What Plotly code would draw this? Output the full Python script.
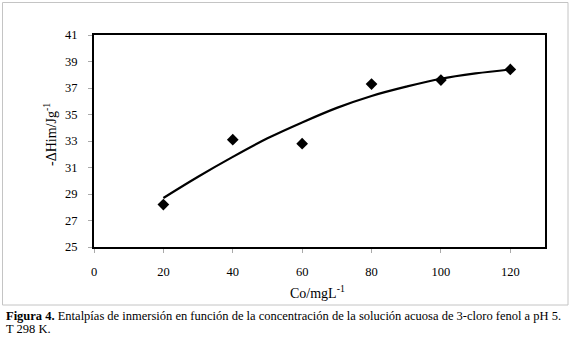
import plotly.graph_objects as go

# Data
conc = [20, 40, 60, 80, 100, 120]
enthalpy = [28.2, 33.1, 32.8, 37.3, 37.6, 38.4]

# Trend line (polynomial trendline as drawn in the chart)
trend_x = [20, 30, 40, 50, 60, 70, 80, 90, 100, 110, 120]
trend_y = [28.7, 30.3, 31.8, 33.2, 34.4, 35.5, 36.4, 37.1, 37.7, 38.1, 38.4]

x_ticks = [0, 20, 40, 60, 80, 100, 120]
y_ticks = [25, 27, 29, 31, 33, 35, 37, 39, 41]

W, H = 571, 338
L, R, T, B = 94, 545, 35, 247


def px(xp):
    return (xp - L) / (R - L)


def py(yp):
    return (B - yp) / (B - T)


font_family = "Liberation Serif"

fig = go.Figure()
fig.add_trace(go.Scatter(x=trend_x, y=trend_y, mode="lines", line=dict(color="black", width=2.2, shape="spline"),
                         hoverinfo="skip", showlegend=False))
fig.add_trace(go.Scatter(x=conc, y=enthalpy, mode="markers",
                         marker=dict(symbol="diamond", size=9, color="black"), showlegend=False))

fig.update_layout(
    width=W, height=H,
    margin=dict(l=L, r=W - R, t=T, b=H - B),
    paper_bgcolor="white", plot_bgcolor="white",
    font=dict(family=font_family, color="black", size=12),
    xaxis=dict(range=[0, 130], tickvals=x_ticks, showgrid=False, zeroline=False,
               showline=True, linecolor="black", linewidth=2, mirror=True,
               ticks="outside", ticklen=4, tickcolor="#aaaaaa", ticklabelstandoff=8,
               tickfont=dict(size=12.5, family=font_family)),
    yaxis=dict(range=[25, 41], tickvals=y_ticks, showgrid=False, zeroline=False,
               showline=True, linecolor="black", linewidth=2, mirror=True,
               ticks="outside", ticklen=4, tickcolor="#aaaaaa", ticklabelstandoff=8,
               tickfont=dict(size=12.5, family=font_family)),
    shapes=[dict(type="rect", xref="paper", yref="paper",
                 x0=px(2.5), x1=px(568), y0=py(305), y1=py(2.5),
                 line=dict(color="#c4c4c4", width=1), layer="below")],
    annotations=[
        dict(text="-ΔHim/Jg<sup>-1</sup>", xref="paper", yref="paper", x=px(50), y=py(135),
             textangle=-90, showarrow=False, xanchor="center", yanchor="middle",
             font=dict(size=14, family=font_family)),
        dict(text="Co/mgL<sup>-1</sup>", xref="paper", yref="paper", x=px(317), y=py(292),
             showarrow=False, xanchor="center", yanchor="middle",
             font=dict(size=14, family=font_family)),
        dict(text="<b>Figura 4.</b> Entalpías de inmersión en función de la concentración de la solución acuosa de 3-cloro fenol a pH 5.",
             xref="paper", yref="paper", x=px(4), y=py(316), showarrow=False,
             xanchor="left", yanchor="middle", font=dict(size=12.5, family=font_family)),
        dict(text="T 298 K.", xref="paper", yref="paper", x=px(4), y=py(329), showarrow=False,
             xanchor="left", yanchor="middle", font=dict(size=12.5, family=font_family)),
    ],
)

fig.write_html("out.html", config={"displayModeBar": False},
               post_script="document.body.style.margin='0';document.body.style.padding='0';")
